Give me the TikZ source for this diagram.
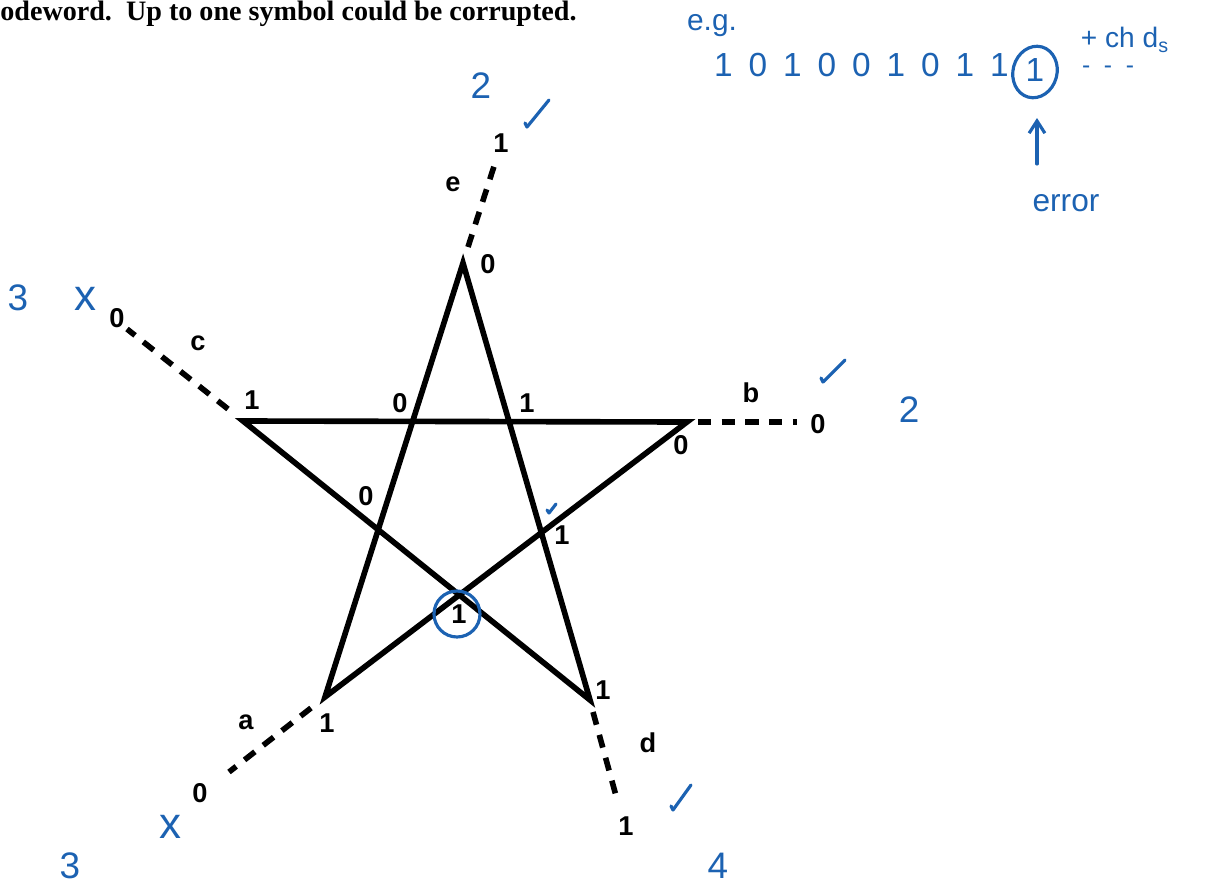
\documentclass[tikz,border=0pt]{standalone}
\usepackage{fontspec}
\setmainfont{Liberation Serif}
\setsansfont{Liberation Sans}
\usetikzlibrary{arrows.meta}
\definecolor{ink}{RGB}{28,98,178}

\begin{document}
\begin{tikzpicture}[x=0.02cm, y=-0.02cm,
    edge/.style={line width=3.2pt, line join=miter},
    tail/.style={line width=3.2pt, dash pattern=on 7.5pt off 6pt},
    bit/.style={font=\sffamily\bfseries\fontsize{15.5}{15.5}\selectfont, inner sep=0pt},
    hand/.style={font=\sffamily\fontsize{21}{21}\selectfont, color=ink, inner sep=0pt},
    note/.style={font=\sffamily\fontsize{17}{17}\selectfont, color=ink, inner sep=0pt},
    pen/.style={draw=ink, line width=1.8pt, line cap=round, line join=round}
]
    \useasboundingbox (0,0) rectangle (1214,886);

    % Header line, cut at the left edge
    \node[anchor=base west, inner sep=0pt, font=\rmfamily\bfseries\fontsize{16}{16}\selectfont] (head) at (0,20) {odeword.\ \ Up to one symbol could be corrupted.};

    % Star corners
    \coordinate (top) at (463,263);
    \coordinate (ul) at (243,421);
    \coordinate (ur) at (687,422);
    \coordinate (ll) at (325,697);
    \coordinate (lr) at (590,700);

    % Star edges
    \draw[edge] (top) -- (ll) -- (ur) -- (ul) -- (lr) -- cycle;

    % Dashed tails
    \coordinate (eIn) at (468,247);  \coordinate (eOut) at (497,157);
    \coordinate (cIn) at (228,409);  \coordinate (cOut) at (127,329);
    \coordinate (bIn) at (698,422);  \coordinate (bOut) at (797,422);
    \coordinate (aIn) at (311,708);  \coordinate (aOut) at (229,772);
    \coordinate (dIn) at (593,712);  \coordinate (dOut) at (618,803);
    \draw[tail] (eIn) -- (eOut);
    \draw[tail] (cIn) -- (cOut);
    \draw[tail] (bIn) -- (bOut);
    \draw[tail] (aIn) -- (aOut);
    \draw[tail] (dIn) -- (dOut);

    % Bits and tail names
    \node[bit] (eEnd) at (501,143) {1};
    \node[bit] (eName) at (453,184) {e};
    \node[bit] (eStart) at (488,264) {0};
    \node[bit] (cEnd) at (117,318) {0};
    \node[bit] (cName) at (198,343) {c};
    \node[bit] (cStart) at (252,400) {1};
    \node[bit] (crossL) at (400,403) {0};
    \node[bit] (crossR) at (527,403) {1};
    \node[bit] (bName) at (751,393) {b};
    \node[bit] (bEnd) at (818,424) {0};
    \node[bit] (bStart) at (681,445) {0};
    \node[bit] (sideL) at (366,496) {0};
    \node[bit] (sideR) at (562,535) {1};
    \node[bit] (mid) at (459,614) {1};
    \node[bit] (dStart) at (603,690) {1};
    \node[bit] (dName) at (648,743) {d};
    \node[bit] (dEnd) at (626,826) {1};
    \node[bit] (aName) at (246,722) {a};
    \node[bit] (aStart) at (327,723) {1};
    \node[bit] (aEnd) at (200,793) {0};

    % Hand marks round the star
    \node[hand] (scoreE) at (481,86) {2};
    \draw[pen] (525,123) -- (527,127) -- (549,100);
    \node[hand] (scoreC) at (18,298) {3};
    \node[hand, font=\sffamily\fontsize{25}{25}\selectfont] (crossC) at (85,299) {x};
    \draw[pen] (821,378) -- (823,382) -- (845,360);
    \node[hand] (scoreB) at (909,410) {2};
    \draw[pen] (547,510) -- (549,513) -- (556,504);
    \node[circle, draw=ink, line width=1.8pt, minimum size=0.92cm] (ring) at (457,614) {};
    \node[hand, font=\sffamily\fontsize{25}{25}\selectfont] (crossA) at (170,827) {x};
    \node[hand] (scoreA) at (70,866) {3};
    \draw[pen] (671,806) -- (673,810) -- (691,785);
    \node[hand] (scoreD) at (718,866) {4};

    % Example word, top right
    \node[note] (eg) at (712,26) {e.g.};
    \foreach \b [count=\i] in {1,0,1,0,0,1,0,1,1}
        \node[hand, font=\sffamily\fontsize{19}{19}\selectfont] (w\i) at (689+34.5*\i, 65) {\b};
    \node[hand, font=\sffamily\fontsize{19}{19}\selectfont] (bad) at (1035,70) {1};
    \draw[pen, rotate around={-15:(1035,72)}] (1035,72) ellipse [x radius=22, y radius=26];
    \node[note, font=\sffamily\fontsize{16}{16}\selectfont] (chk) at (1125,40) {+ ch d\textsubscript{s}};
    \node[note, font=\sffamily\fontsize{14}{14}\selectfont] (dots) at (1108,70) {-\ \ -\ \ -};
    \coordinate (arrFoot) at (1037,164);
    \coordinate (arrHead) at (1037,118);
    \draw[pen, -{Straight Barb[length=7pt, width=9pt]}] (arrFoot) -- (arrHead);
    \node[note, font=\sffamily\fontsize{18}{18}\selectfont] (err) at (1066,203) {error};
\end{tikzpicture}
\end{document}
